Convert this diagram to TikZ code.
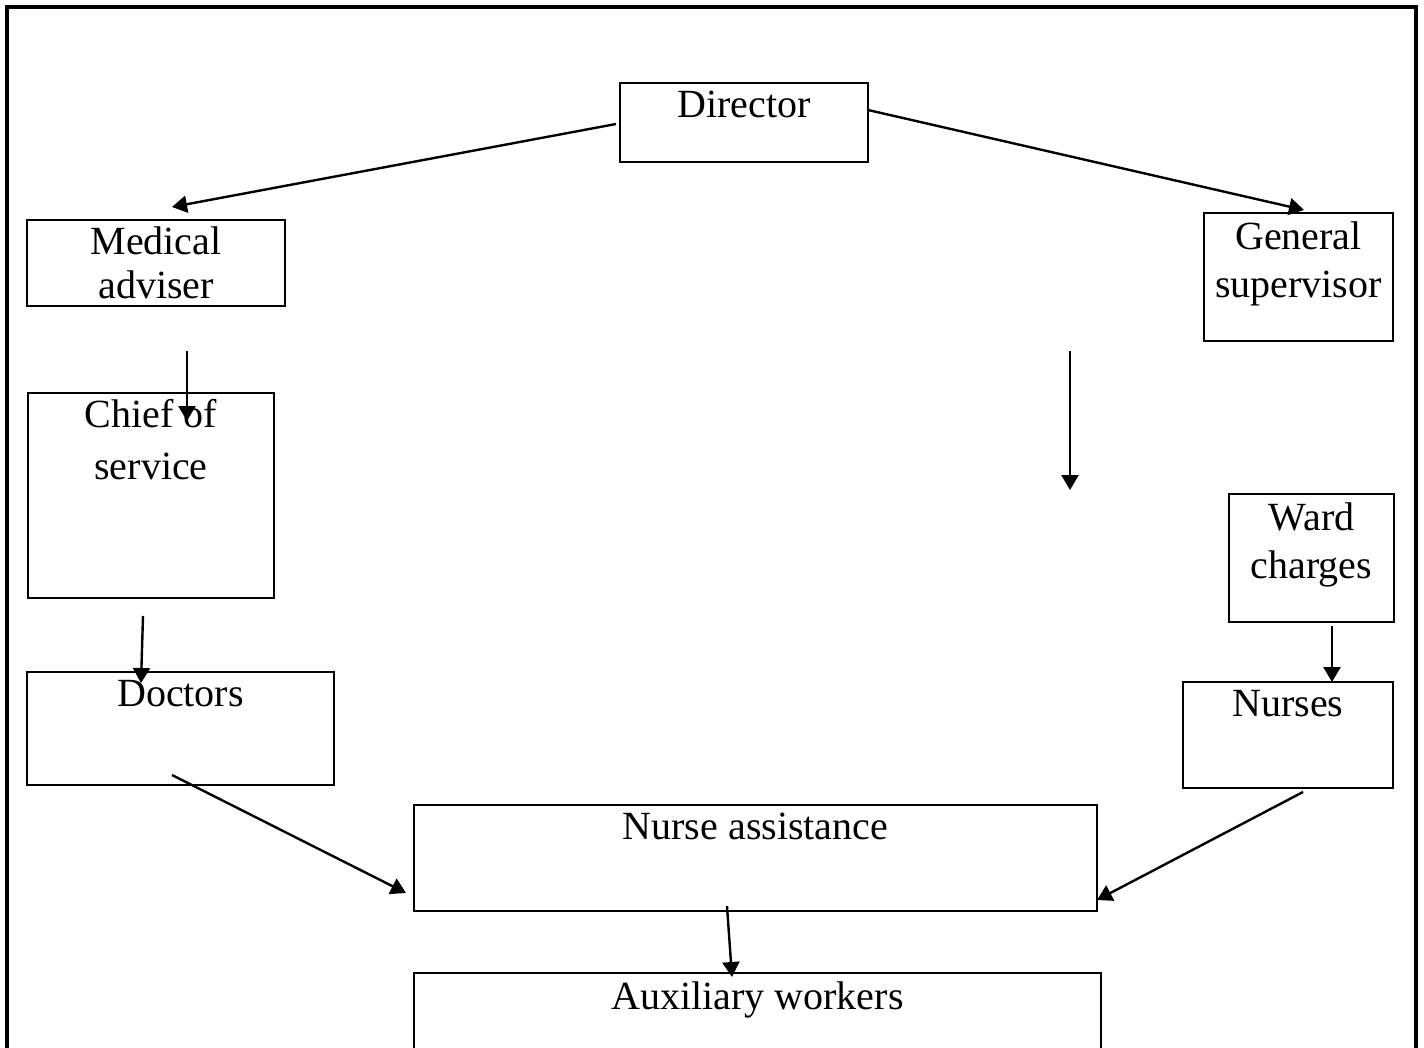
\documentclass[tikz,border=0pt]{standalone}
\usepackage{fontspec}
\setmainfont{Liberation Serif}
\usetikzlibrary{positioning, arrows.meta, calc}

\begin{document}
\begin{tikzpicture}[
    x=0.5pt, y=-0.5pt,
    every node/.style={font=\fontsize{20}{24}\selectfont},
    box/.style={draw, line width=1.2pt, outer sep=0pt, inner sep=0pt},
    txt/.style={align=center, inner sep=4pt, anchor=north},
    arr/.style={-{Triangle[length=7.5pt, width=8.5pt]}, line width=1.2pt},
    frame/.style={line width=1.75pt},
]
\clip (0,0) rectangle (1424,1048);

% ── Outer frame (bottom edge runs off the page) ─────────────────────────────
\draw[frame] (7,1070) |- (1416,7) -- (1416,1070);

% ── Top ─────────────────────────────────────────────────────────────────────
\node[box, minimum width=124pt, minimum height=39.5pt,
      label={[txt]north:Director}] (director) at (744,122.5) {};

% ── Left column ─────────────────────────────────────────────────────────────
\node[box, minimum width=129pt, minimum height=43pt,
      label={[txt, inner sep=3pt]north:Medical\\[-2pt]adviser}] (medadv) at (156,263) {};
\node[box, minimum width=123pt, minimum height=102.5pt,
      label={[txt, inner sep=3pt]north:Chief of\\[2pt]service}] (chief) at (151,495.5) {};
\node[box, minimum width=153.5pt, minimum height=56.5pt,
      label={[txt]north:Doctors}] (doctors) at (180.5,728.5) {};

% ── Right column ────────────────────────────────────────────────────────────
\node[box, minimum width=94.5pt, minimum height=64pt,
      label={[txt]north:General\\supervisor}] (gensup) at (1298.5,277) {};
\node[box, minimum width=82.5pt, minimum height=64pt,
      label={[txt]north:Ward\\charges}] (ward) at (1311.5,558) {};
\node[box, minimum width=105pt, minimum height=53pt,
      label={[txt]north:Nurses}] (nurses) at (1288,735) {};

% ── Bottom ──────────────────────────────────────────────────────────────────
\node[box, minimum width=341.5pt, minimum height=53pt,
      label={[txt]north:Nurse assistance}] (nurseass) at (755.5,858) {};
\node[box, minimum width=343.5pt, minimum height=55pt,
      label={[txt]north:Auxiliary workers}] (aux) at (757.5,1028) {};

\coordinate (gap) at (1070,490);

% ── Arrows ──────────────────────────────────────────────────────────────────
\draw[arr] ([xshift=-2pt, yshift=-0.75pt]director.west) -- ([xshift=8pt, yshift=6.5pt]medadv.north);
\draw[arr] ([yshift=6.25pt]director.east) -- ([xshift=2.75pt, yshift=1.5pt]gensup.north);
\draw[arr] ([xshift=15.5pt, yshift=-22.5pt]medadv.south) -- ([xshift=18pt, yshift=-14pt]chief.north);
\draw[arr] ([xshift=-114.25pt, yshift=-5pt]gensup.south) -- (gap);
\draw[arr] ([xshift=-4pt, yshift=-9pt]chief.south) -- ([xshift=-19.75pt, yshift=-5.5pt]doctors.north);
\draw[arr] ([xshift=10.25pt, yshift=-2pt]ward.south) -- ([xshift=22pt]nurses.north);
\draw[arr] ([xshift=-4.25pt, yshift=5pt]doctors.south) -- ([xshift=-4pt, yshift=-17.5pt]nurseass.west);
\draw[arr] ([xshift=7.5pt, yshift=-2pt]nurses.south) -- ([yshift=-21pt]nurseass.east);
\draw[arr] ([xshift=-14.25pt, yshift=2.5pt]nurseass.south) -- ([xshift=-12.75pt, yshift=-2pt]aux.north);

\end{tikzpicture}
\end{document}
